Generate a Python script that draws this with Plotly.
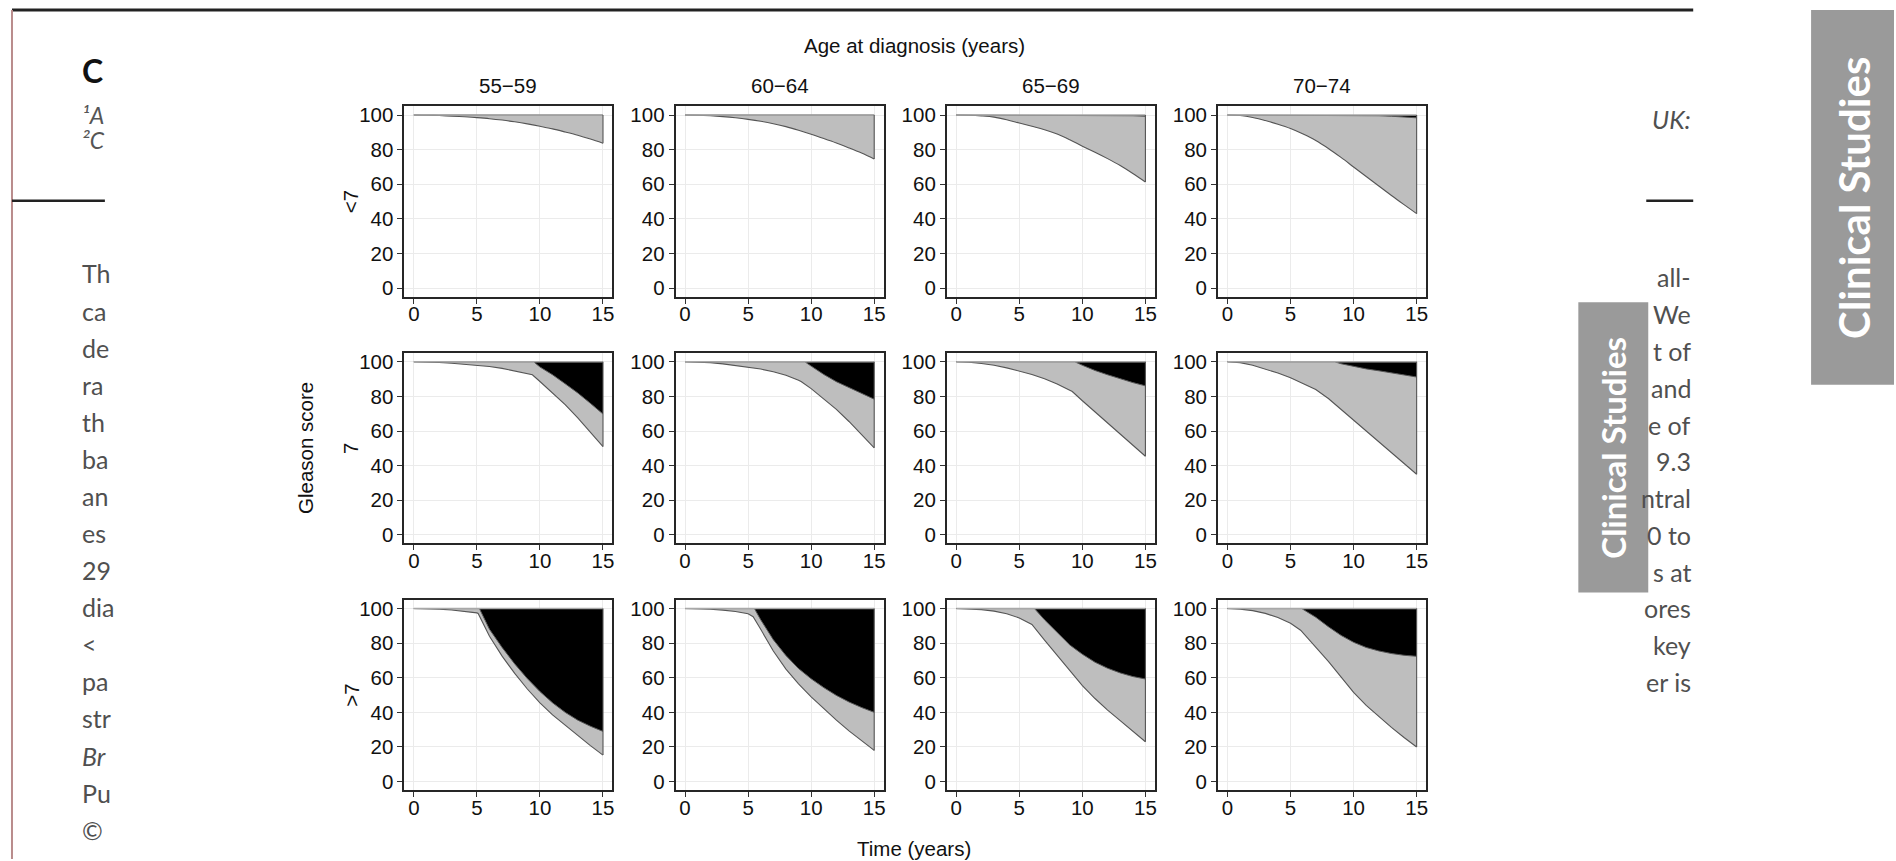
import plotly.graph_objects as go

# ---------------- data ----------------
AGE_GROUPS = ["55\u221259", "60\u221264", "65\u221269", "70\u221274"]
GLEASON = ["&lt;7", "7", "&gt;7"]
X_TICKS = [0, 5, 10, 15]
Y_TICKS = [0, 20, 40, 60, 80, 100]
YEARS = list(range(16))

# Gleason <7  (lower = top of white area, upper = bottom of black area)
LT7_5559_LOW = [100, 99.9, 99.7, 99.4, 99.0, 98.5, 97.9, 97.1, 96.1, 94.9, 93.5, 92.0, 90.2, 88.3, 86.1, 83.7]
LT7_5559_UP_T = [0, 15]
LT7_5559_UP = [100, 100]
LT7_6064_LOW = [100, 99.9, 99.6, 99.1, 98.4, 97.5, 96.4, 95.0, 93.3, 91.2, 88.9, 86.4, 83.8, 81.0, 78.0, 74.6]
LT7_6064_UP_T = [0, 15]
LT7_6064_UP = [100, 100]
LT7_6569_LOW = [100, 99.9, 99.5, 98.8, 97.3, 95.4, 93.5, 91.5, 89.0, 85.7, 82.0, 78.5, 74.8, 70.8, 66.2, 61.3]
LT7_6569_UP_T = [0, 11, 12, 13, 14, 15]
LT7_6569_UP = [100, 100, 99.9, 99.8, 99.6, 99.3]
LT7_7074_LOW = [100, 99.7, 98.6, 96.8, 94.7, 92.2, 89.0, 85.3, 80.7, 75.5, 70.0, 64.5, 59.0, 53.5, 48.2, 43.0]
LT7_7074_UP_T = [0, 10, 11, 12, 13, 14, 15]
LT7_7074_UP = [100, 100, 99.8, 99.6, 99.3, 98.9, 98.4]

# Gleason 7
G7_5559_LOW_T = [0, 1, 2, 3, 4, 5, 6, 7, 8, 9, 9.4, 10, 11, 12, 13, 14, 15]
G7_5559_LOW = [100, 99.9, 99.6, 99.2, 98.7, 98.2, 97.3, 96.2, 94.8, 93.3, 92.5, 88.6, 82.0, 75.2, 67.6, 59.5, 51.0]
G7_5559_UP_T = [0, 9.5, 10, 11, 12, 13, 14, 15]
G7_5559_UP = [100, 100, 97.0, 92.5, 87.3, 82.0, 76.0, 69.8]
G7_6064_LOW_T = [0, 1, 2, 3, 4, 5, 6, 7, 8, 9, 9.2, 10, 11, 12, 13, 14, 15]
G7_6064_LOW = [100, 99.9, 99.5, 98.8, 97.9, 96.9, 95.8, 94.2, 92.2, 89.4, 88.6, 84.5, 78.5, 72.5, 65.5, 58.0, 50.3]
G7_6064_UP_T = [0, 9.5, 10, 11, 12, 13, 14, 15]
G7_6064_UP = [100, 100, 97.5, 92.7, 88.5, 85.0, 81.5, 78.4]
G7_6569_LOW_T = [0, 1, 2, 3, 4, 5, 6, 7, 8, 9, 9.2, 10, 11, 12, 13, 14, 15]
G7_6569_LOW = [100, 99.8, 99.0, 98.0, 96.5, 94.7, 92.7, 90.2, 87.2, 83.5, 82.8, 77.5, 71.0, 64.5, 58.0, 51.7, 45.4]
G7_6569_UP_T = [0, 9.4, 10, 11, 12, 13, 14, 15]
G7_6569_UP = [100, 100, 98.0, 95.0, 92.5, 90.2, 88.0, 86.1]
G7_7074_LOW = [100, 99.5, 98.0, 95.8, 93.5, 90.8, 87.5, 84.0, 78.8, 72.5, 66.0, 59.8, 53.6, 47.4, 41.2, 35.0]
G7_7074_UP_T = [0, 8.5, 9, 10, 11, 12, 13, 14, 15]
G7_7074_UP = [100, 100, 98.9, 97.2, 95.9, 94.8, 93.7, 92.4, 91.2]

# Gleason >7
GT7_5559_LOW_T = [0, 1, 2, 3, 4, 5, 5.1, 6, 7, 8, 9, 10, 11, 12, 13, 14, 15]
GT7_5559_LOW = [100, 99.9, 99.7, 99.2, 98.5, 97.5, 97.2, 84.0, 72.5, 62.5, 53.5, 45.5, 38.5, 32.5, 26.5, 20.8, 15.3]
GT7_5559_UP_T = [0, 5.2, 6, 7, 8, 9, 10, 11, 12, 13, 14, 15]
GT7_5559_UP = [100, 100, 88.0, 77.5, 68.0, 59.5, 52.0, 45.5, 40.0, 35.5, 32.0, 29.0]
GT7_6064_LOW_T = [0, 1, 2, 3, 4, 5, 5.4, 6, 7, 8, 9, 10, 11, 12, 13, 14, 15]
GT7_6064_LOW = [100, 99.9, 99.6, 99.1, 98.3, 97.0, 95.3, 88.0, 75.5, 65.0, 56.5, 49.0, 42.0, 35.5, 29.3, 23.5, 18.0]
GT7_6064_UP_T = [0, 5.5, 6, 7, 8, 9, 10, 11, 12, 13, 14, 15]
GT7_6064_UP = [100, 100, 93.5, 82.0, 72.8, 65.3, 59.4, 54.3, 49.8, 46.0, 42.8, 40.0]
GT7_6569_LOW = [100, 99.9, 99.4, 98.5, 97.0, 94.6, 90.8, 81.8, 73.0, 64.0, 55.4, 48.0, 41.3, 35.2, 29.0, 23.0]
GT7_6569_UP_T = [0, 6.2, 7, 8, 9, 10, 11, 12, 13, 14, 15]
GT7_6569_UP = [100, 100, 93.5, 86.5, 79.0, 73.6, 69.0, 65.5, 62.8, 60.7, 59.3]
GT7_7074_LOW_T = [0, 1, 2, 3, 4, 5, 5.8, 6, 7, 8, 9, 10, 11, 12, 13, 14, 15]
GT7_7074_LOW = [100, 99.7, 98.8, 97.2, 94.8, 91.5, 87.5, 85.9, 78.0, 69.5, 60.5, 51.5, 44.0, 37.5, 31.3, 25.5, 20.0]
GT7_7074_UP_T = [0, 5.9, 6, 7, 8, 9, 10, 11, 12, 13, 14, 15]
GT7_7074_UP = [100, 100, 99.5, 95.0, 89.5, 84.5, 80.5, 77.5, 75.5, 74.0, 73.0, 72.4]

PANELS = [
    [(YEARS, LT7_5559_LOW, LT7_5559_UP_T, LT7_5559_UP),
     (YEARS, LT7_6064_LOW, LT7_6064_UP_T, LT7_6064_UP),
     (YEARS, LT7_6569_LOW, LT7_6569_UP_T, LT7_6569_UP),
     (YEARS, LT7_7074_LOW, LT7_7074_UP_T, LT7_7074_UP)],
    [(G7_5559_LOW_T, G7_5559_LOW, G7_5559_UP_T, G7_5559_UP),
     (G7_6064_LOW_T, G7_6064_LOW, G7_6064_UP_T, G7_6064_UP),
     (G7_6569_LOW_T, G7_6569_LOW, G7_6569_UP_T, G7_6569_UP),
     (YEARS, G7_7074_LOW, G7_7074_UP_T, G7_7074_UP)],
    [(GT7_5559_LOW_T, GT7_5559_LOW, GT7_5559_UP_T, GT7_5559_UP),
     (GT7_6064_LOW_T, GT7_6064_LOW, GT7_6064_UP_T, GT7_6064_UP),
     (YEARS, GT7_6569_LOW, GT7_6569_UP_T, GT7_6569_UP),
     (GT7_7074_LOW_T, GT7_7074_LOW, GT7_7074_UP_T, GT7_7074_UP)],
]

# page fragments around the figure
LEFT_FRAGMENTS = ["Th", "ca", "de", "ra", "th", "ba", "an", "es", "29", "dia", "&lt;", "pa", "str", "Br", "Pu", "\u00a9"]
RIGHT_FRAGMENTS = ["all-", "We", "t of", "and", "e of", "9.3", "ntral", "0 to", "s at", "ores", "key", "er is"]

# ---------------- layout helpers ----------------
W, H = 1896, 861
COL_LEFT = [404.8 + 271.5 * i for i in range(4)]
PW = 208.3
ROW_TOP = [104 + 248.2 * j for j in range(3)]
PH = 191.4


def xp(px):
    return px / W


def yp(py):
    return 1 - py / H


FONT = "Liberation Sans, Arial, Helvetica, sans-serif"
PAGE_FONT = "Lato, Open Sans, sans-serif"
OUTLINE = "#555555"

fig = go.Figure()
layout = dict(
    width=W, height=H, margin=dict(l=0, r=0, t=0, b=0),
    paper_bgcolor="white", plot_bgcolor="white", showlegend=False,
)

for r in range(3):
    for c in range(4):
        k = r * 4 + c + 1
        xa = "x" if k == 1 else f"x{k}"
        ya = "y" if k == 1 else f"y{k}"
        lt, lv, ut, uv = PANELS[r][c]
        low_shape = "spline" if r == 0 else "linear"
        fig.add_trace(go.Scatter(x=lt, y=lv, mode="lines", xaxis=xa, yaxis=ya,
                                 line=dict(color=OUTLINE, width=1.1, shape=low_shape),
                                 hoverinfo="skip"))
        fig.add_trace(go.Scatter(x=ut, y=uv, mode="lines", xaxis=xa, yaxis=ya,
                                 fill="tonexty", fillcolor="#bebebe",
                                 line=dict(color=OUTLINE, width=1.0), hoverinfo="skip"))
        fig.add_trace(go.Scatter(x=[0, 15], y=[100, 100], mode="lines", xaxis=xa, yaxis=ya,
                                 fill="tonexty", fillcolor="#000000",
                                 line=dict(color="#a8a8a8", width=1.6), hoverinfo="skip"))
        fig.add_trace(go.Scatter(x=[15, 15], y=[lv[-1], 100], mode="lines", xaxis=xa, yaxis=ya,
                                 line=dict(color=OUTLINE, width=1.1), hoverinfo="skip"))

        axcommon = dict(showline=True, mirror=True, linecolor="#262626", linewidth=1.8,
                        ticks="outside", ticklen=5, tickwidth=1.2, tickcolor="#333333",
                        showgrid=True, gridcolor="#ebebeb", gridwidth=1, zeroline=False,
                        tickfont=dict(family=FONT, size=20.5, color="#111111"), fixedrange=True)
        layout["xaxis" if k == 1 else f"xaxis{k}"] = dict(
            domain=[xp(COL_LEFT[c]), xp(COL_LEFT[c] + PW)], range=[-0.75, 15.75],
            tickvals=X_TICKS, anchor=ya, ticklabelstandoff=-7, **axcommon)
        layout["yaxis" if k == 1 else f"yaxis{k}"] = dict(
            domain=[yp(ROW_TOP[r] + PH), yp(ROW_TOP[r])], range=[-5, 105],
            tickvals=Y_TICKS, anchor=xa, **axcommon)

ann = []


def text(x, y, s, size=20.5, color="#111111", family=FONT, angle=0, xanchor="center", **kw):
    ann.append(dict(x=xp(x), y=yp(y), xref="paper", yref="paper", text=s, showarrow=False,
                    font=dict(family=family, size=size, color=color), textangle=angle,
                    xanchor=xanchor, yanchor="middle", **kw))


# chart texts
text(915, 43, "Age at diagnosis (years)")
for c, lab in enumerate(AGE_GROUPS):
    text(COL_LEFT[c] + PW / 2, 83, lab)
text(306, ROW_TOP[1] + PH / 2, "Gleason score", angle=-90)
for r, lab in enumerate(GLEASON):
    text(351, ROW_TOP[r] + PH / 2, lab, angle=-90)
text(915, 850, "Time (years)")

# page fragments (left)
text(80, 68, "<b>C</b>", size=32, color="#111111", family=PAGE_FONT, xanchor="left")
text(80, 113, "<i>\u00b9A</i>", size=23, color="#555555", family=PAGE_FONT, xanchor="left")
text(80, 138, "<i>\u00b2C</i>", size=23, color="#555555", family=PAGE_FONT, xanchor="left")
for i, s in enumerate(LEFT_FRAGMENTS):
    ital = s == "Br"
    text(80, 272 + 37.3 * i, f"<i>{s}</i>" if ital else s, size=25, color="#505050",
         family=PAGE_FONT, xanchor="left")
# page fragments (right)
text(1695, 117, "<i>UK:</i>", size=25, color="#505050", family=PAGE_FONT, xanchor="right")
for i, s in enumerate(RIGHT_FRAGMENTS):
    text(1695, 276 + 37.0 * i, s, size=25, color="#505050", family=PAGE_FONT, xanchor="right")
# side tabs
text(1615, 447, "<b>Clinical Studies</b>", size=33, color="white", family=PAGE_FONT, angle=-90)
text(1856, 196, "<b>Clinical Studies</b>", size=42, color="white", family=PAGE_FONT, angle=-90)

layout["annotations"] = ann

shapes = [
    dict(type="line", xref="paper", yref="paper", x0=xp(12), x1=xp(1695), y0=yp(7), y1=yp(7),
         line=dict(color="#222222", width=3), layer="below"),
    dict(type="line", xref="paper", yref="paper", x0=xp(12), x1=xp(12), y0=yp(7), y1=yp(861),
         line=dict(color="#b98c8c", width=2), layer="below"),
    dict(type="line", xref="paper", yref="paper", x0=xp(12), x1=xp(105), y0=yp(199), y1=yp(199),
         line=dict(color="#222222", width=2.5), layer="below"),
    dict(type="line", xref="paper", yref="paper", x0=xp(1648), x1=xp(1695), y0=yp(199), y1=yp(199),
         line=dict(color="#222222", width=2.5), layer="below"),
    dict(type="rect", xref="paper", yref="paper", x0=xp(1580), x1=xp(1650), y0=yp(593), y1=yp(301),
         fillcolor="#9a9a9a", line=dict(width=0), layer="below"),
    dict(type="rect", xref="paper", yref="paper", x0=xp(1813), x1=xp(1896), y0=yp(384), y1=yp(7),
         fillcolor="#9a9a9a", line=dict(width=0), layer="below"),
]
layout["shapes"] = shapes

fig.update_layout(**layout)
fig.write_html("out.html", config={"displayModeBar": False},
               post_script="document.body.style.margin='0';document.body.style.overflow='hidden';")
